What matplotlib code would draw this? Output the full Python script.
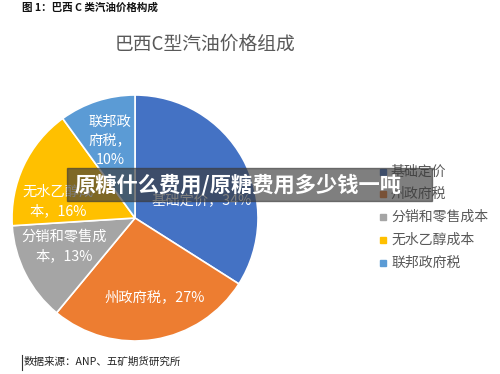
import numpy as np
import matplotlib.pyplot as plt
from matplotlib.patches import Rectangle

plt.rcParams['font.family'] = ['Noto Sans CJK SC', 'DejaVu Sans']

# 数据
categories = ["基础定价", "州政府税", "分销和零售成本", "无水乙醇成本", "联邦政府税"]
shares = [34, 27, 13, 16, 10]
slice_labels = ["基础定价，34%", "州政府税，27%", "分销和零售成\n本，13%", "无水乙醇成\n本，16%", "联邦政\n府税，\n10%"]
colors = ["#4472C4", "#ED7D31", "#A5A5A5", "#FFC000", "#5B9BD5"]
# label placement (radius, angle shift in degrees)
label_r = [0.56, 0.66, 0.62, 0.64, 0.66]
label_shift = [-14, 5, -5, 13, 0]

W, H = 500, 374
fig = plt.figure(figsize=(5, 3.74), dpi=100)

# pie centre (135, 218) px, radius 123 px
cx, cy, r = 135, 218, 123
ax = fig.add_axes([(cx - r) / W, (H - cy - r) / H, 2 * r / W, 2 * r / H])
wedges, _ = ax.pie(shares, colors=colors, startangle=90, counterclock=False,
                   wedgeprops=dict(edgecolor="white", linewidth=1.2))
ax.set_xlim(-1, 1)
ax.set_ylim(-1, 1)
ax.axis("off")

for w, lab, rr, sh in zip(wedges, slice_labels, label_r, label_shift):
    ang = np.deg2rad((w.theta1 + w.theta2) / 2 + sh)
    ax.text(rr * np.cos(ang), rr * np.sin(ang), lab, ha="center", va="center",
            color="white", fontsize=10.3, linespacing=1.45)

# header / title / footer
fig.text(22 / W, 1 - 8 / H, "图 1：巴西 C 类汽油价格构成", fontsize=7.6, fontweight="bold",
         ha="left", va="center", color="#111111")
fig.text(205 / W, 1 - 44 / H, "巴西C型汽油价格组成", fontsize=13.5, color="#595959",
         ha="center", va="center")
fig.text(24 / W, 1 - 362 / H, "数据来源：ANP、五矿期货研究所", fontsize=7.6,
         ha="left", va="center", color="#222222")
fig.add_artist(plt.Line2D([22 / W, 22 / W], [1 - 370 / H, 1 - 355 / H],
                          color="#333333", linewidth=0.8, transform=fig.transFigure))

# legend
leg_y = [172, 194, 217, 240, 263]
for cat, col, y in zip(categories, colors, leg_y):
    fig.add_artist(Rectangle(((383 - 3) / W, 1 - (y + 3) / H), 6 / W, 6 / H,
                             color=col, transform=fig.transFigure))
    fig.text(391 / W, 1 - y / H, cat, fontsize=10, color="#595959",
             ha="left", va="center")

# overlay banner
fig.add_artist(Rectangle((67 / W, 1 - 201 / H), (432 - 67) / W, (201 - 168) / H,
                         color="#3a3a3a", alpha=0.65, transform=fig.transFigure,
                         zorder=5))
fig.text(238 / W, 1 - 185 / H, "原糖什么费用/原糖费用多少钱一吨", fontsize=15.3,
         fontweight="bold", color="white", ha="center", va="center", zorder=6)

fig.savefig("out.png", dpi=100)
